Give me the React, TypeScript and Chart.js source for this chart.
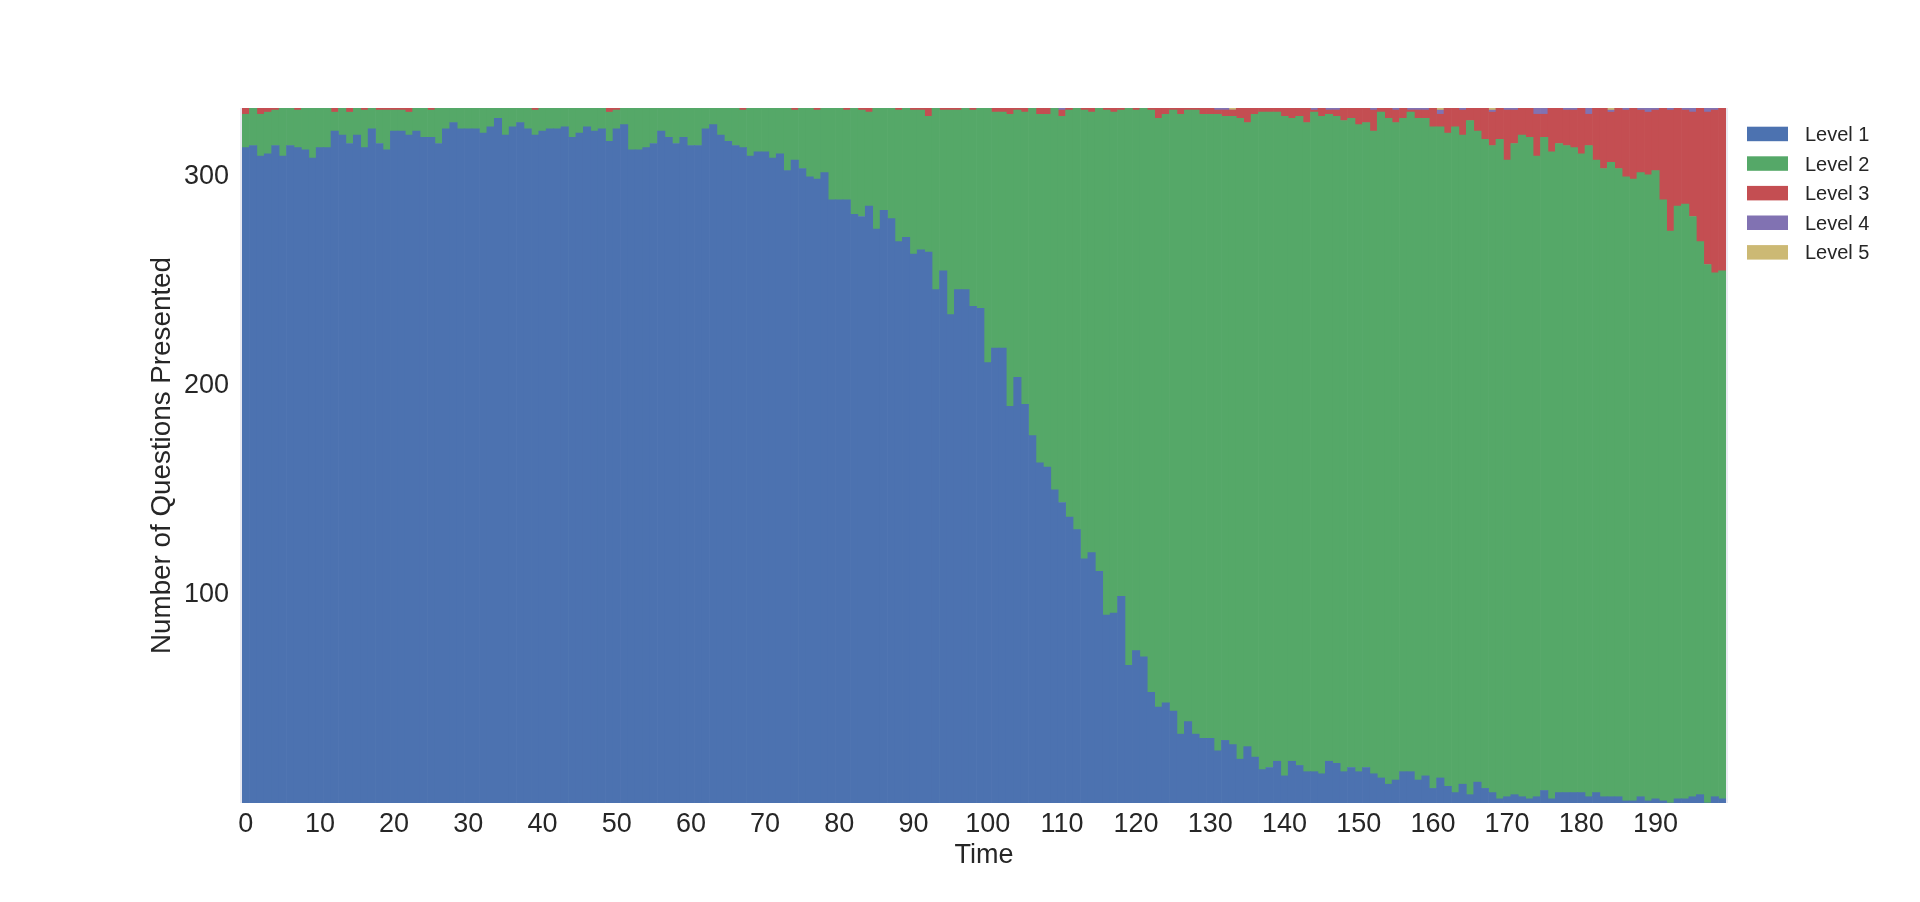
import React, { useEffect, useRef } from 'react';
import { Chart, registerables } from 'chart.js';

Chart.register(...registerables);

const FONT = "'Liberation Sans', Arial, Helvetica, sans-serif";
const TEXT_COLOR = '#262626';

// Categories: time steps 0..199
const TIME: string[] = Array.from({ length: 200 }, (_, i) => String(i));
const X_TICKS = [0, 10, 20, 30, 40, 50, 60, 70, 80, 90, 100, 110, 120, 130, 140, 150, 160, 170, 180, 190];
const Y_TICKS = [100, 200, 300];
const Y_MAX = 333;

const LEVEL_1 = [
  314, 315, 310, 311, 315, 310, 315, 314, 313, 309,
  314, 314, 322, 320, 316, 320, 314, 323, 316, 313,
  322, 322, 320, 322, 319, 319, 316, 323, 326, 323,
  323, 323, 321, 324, 328, 320, 324, 326, 323, 320,
  322, 323, 323, 324, 319, 321, 324, 322, 323, 317,
  323, 325, 313, 313, 314, 316, 322, 319, 316, 319,
  315, 315, 323, 325, 320, 317, 315, 314, 310, 312,
  312, 309, 311, 303, 308, 304, 300, 299, 302, 289,
  289, 289, 282, 281, 286, 275, 284, 280, 269, 271,
  263, 265, 264, 246, 255, 234, 246, 246, 238, 237,
  211, 218, 218, 190, 204, 191, 176, 163, 161, 150,
  144, 137, 131, 117, 120, 111, 90, 91, 99, 66,
  73, 70, 53, 46, 48, 44, 33, 39, 33, 31,
  31, 25, 30, 28, 21, 27, 22, 16, 17, 20,
  13, 20, 18, 15, 15, 14, 20, 19, 15, 17,
  15, 17, 14, 12, 9, 11, 15, 15, 11, 13,
  7, 12, 8, 5, 9, 4, 10, 7, 5, 2,
  3, 4, 3, 2, 3, 6, 2, 5, 5, 5,
  5, 3, 5, 3, 3, 3, 1, 1, 3, 1,
  2, 1, 0, 2, 2, 3, 4, 0, 3, 2,
];

const LEVEL_2 = [
  16, 18, 20, 20, 17, 23, 18, 18, 20, 24,
  19, 19, 9, 13, 15, 13, 18, 10, 16, 19,
  10, 10, 11, 11, 14, 13, 17, 10, 7, 10,
  10, 10, 12, 9, 5, 13, 9, 7, 10, 12,
  11, 10, 10, 9, 14, 12, 9, 11, 10, 14,
  9, 8, 20, 20, 19, 17, 11, 14, 17, 14,
  18, 18, 10, 8, 13, 16, 18, 18, 23, 21,
  21, 24, 22, 30, 24, 29, 33, 33, 31, 44,
  44, 43, 51, 51, 45, 58, 49, 53, 63, 62,
  69, 67, 65, 87, 77, 98, 86, 87, 94, 96,
  122, 113, 113, 140, 128, 140, 157, 167, 169, 183,
  185, 195, 202, 215, 211, 222, 242, 240, 233, 267,
  259, 263, 279, 282, 282, 288, 297, 293, 299, 299,
  299, 305, 299, 301, 307, 299, 308, 315, 314, 311,
  316, 308, 311, 311, 316, 315, 310, 310, 312, 311,
  310, 309, 308, 319, 319, 315, 313, 316, 317, 315,
  317, 312, 313, 319, 311, 323, 312, 311, 310, 316,
  305, 312, 317, 317, 307, 313, 310, 311, 310, 309,
  306, 312, 303, 301, 304, 301, 299, 298, 299, 300,
  301, 288, 274, 284, 285, 278, 265, 258, 251, 253,
];

const LEVEL_3 = [
  3, 0, 3, 2, 1, 0, 0, 1, 0, 0,
  0, 0, 2, 0, 2, 0, 1, 0, 1, 1,
  1, 1, 2, 0, 0, 1, 0, 0, 0, 0,
  0, 0, 0, 0, 0, 0, 0, 0, 0, 1,
  0, 0, 0, 0, 0, 0, 0, 0, 0, 2,
  1, 0, 0, 0, 0, 0, 0, 0, 0, 0,
  0, 0, 0, 0, 0, 0, 0, 1, 0, 0,
  0, 0, 0, 0, 1, 0, 0, 1, 0, 0,
  0, 1, 0, 1, 2, 0, 0, 0, 1, 0,
  1, 1, 4, 0, 1, 1, 1, 0, 1, 0,
  0, 2, 2, 3, 1, 2, 0, 3, 3, 0,
  3, 1, 0, 1, 2, 0, 1, 2, 1, 0,
  1, 0, 1, 5, 3, 1, 3, 1, 1, 3,
  3, 2, 3, 3, 5, 7, 3, 2, 2, 2,
  4, 5, 4, 7, 1, 4, 2, 3, 6, 5,
  8, 7, 10, 2, 5, 6, 5, 1, 4, 4,
  9, 6, 12, 9, 12, 6, 11, 15, 16, 15,
  24, 16, 13, 14, 20, 11, 21, 17, 17, 18,
  22, 15, 25, 29, 24, 29, 32, 34, 30, 30,
  29, 44, 58, 47, 45, 50, 64, 73, 78, 78,
];

const LEVEL_4 = [
  0, 0, 0, 0, 0, 0, 0, 0, 0, 0,
  0, 0, 0, 0, 0, 0, 0, 0, 0, 0,
  0, 0, 0, 0, 0, 0, 0, 0, 0, 0,
  0, 0, 0, 0, 0, 0, 0, 0, 0, 0,
  0, 0, 0, 0, 0, 0, 0, 0, 0, 0,
  0, 0, 0, 0, 0, 0, 0, 0, 0, 0,
  0, 0, 0, 0, 0, 0, 0, 0, 0, 0,
  0, 0, 0, 0, 0, 0, 0, 0, 0, 0,
  0, 0, 0, 0, 0, 0, 0, 0, 0, 0,
  0, 0, 0, 0, 0, 0, 0, 0, 0, 0,
  0, 0, 0, 0, 0, 0, 0, 0, 0, 0,
  1, 0, 0, 0, 0, 0, 0, 0, 0, 0,
  0, 0, 0, 0, 0, 0, 0, 0, 0, 0,
  0, 1, 1, 0, 0, 0, 0, 0, 0, 0,
  0, 0, 0, 0, 1, 0, 1, 1, 0, 0,
  0, 0, 1, 0, 0, 1, 0, 1, 1, 1,
  0, 2, 0, 0, 1, 0, 0, 0, 1, 0,
  1, 1, 0, 0, 3, 3, 0, 0, 1, 1,
  0, 3, 0, 0, 1, 0, 1, 0, 1, 2,
  1, 0, 1, 0, 1, 2, 0, 2, 1, 0,
];

const LEVEL_5 = [
  0, 0, 0, 0, 0, 0, 0, 0, 0, 0,
  0, 0, 0, 0, 0, 0, 0, 0, 0, 0,
  0, 0, 0, 0, 0, 0, 0, 0, 0, 0,
  0, 0, 0, 0, 0, 0, 0, 0, 0, 0,
  0, 0, 0, 0, 0, 0, 0, 0, 0, 0,
  0, 0, 0, 0, 0, 0, 0, 0, 0, 0,
  0, 0, 0, 0, 0, 0, 0, 0, 0, 0,
  0, 0, 0, 0, 0, 0, 0, 0, 0, 0,
  0, 0, 0, 0, 0, 0, 0, 0, 0, 0,
  0, 0, 0, 0, 0, 0, 0, 0, 0, 0,
  0, 0, 0, 0, 0, 0, 0, 0, 0, 0,
  0, 0, 0, 0, 0, 0, 0, 0, 0, 0,
  0, 0, 0, 0, 0, 0, 0, 0, 0, 0,
  0, 0, 0, 1, 0, 0, 0, 0, 0, 0,
  0, 0, 0, 0, 0, 0, 0, 0, 0, 0,
  0, 0, 0, 0, 0, 0, 0, 0, 0, 0,
  0, 1, 0, 0, 0, 0, 0, 0, 1, 0,
  0, 0, 0, 0, 0, 0, 0, 0, 0, 0,
  0, 0, 0, 0, 1, 0, 0, 0, 0, 0,
  0, 0, 0, 0, 0, 0, 0, 0, 0, 0,
];

const SERIES_NAMES = ['Level 1', 'Level 2', 'Level 3', 'Level 4', 'Level 5'];
const SERIES_COLORS = ['#4C72B0', '#55A868', '#C44E52', '#8172B2', '#CCB974'];

const decorPlugin = {
  id: 'decor',
  afterDraw(chart: any) {
    const { ctx, chartArea } = chart;
    ctx.save();
    // light spines left/right
    ctx.fillStyle = '#EAEAF2';
    ctx.fillRect(chartArea.left - 2, chartArea.top, 2, chartArea.bottom - chartArea.top);
    ctx.fillRect(chartArea.right, chartArea.top, 2, chartArea.bottom - chartArea.top);
    // legend
    ctx.font = `20px ${FONT}`;
    ctx.textBaseline = 'middle';
    ctx.textAlign = 'left';
    chart.data.datasets.forEach((ds: any, i: number) => {
      const top = 126.7 + i * 29.6;
      ctx.fillStyle = ds.backgroundColor;
      ctx.fillRect(chartArea.right + 21, top, 41, 14.5);
      ctx.fillStyle = TEXT_COLOR;
      ctx.fillText(ds.label, chartArea.right + 79, top + 8.8);
    });
    ctx.restore();
  },
};

export default function App() {
  const canvasRef = useRef<HTMLCanvasElement | null>(null);

  useEffect(() => {
    const canvas = canvasRef.current;
    if (!canvas) return;
    const values = [LEVEL_1, LEVEL_2, LEVEL_3, LEVEL_4, LEVEL_5];
    const chart = new Chart(canvas, {
      type: 'bar',
      data: {
        labels: TIME,
        datasets: values.map((data, i) => ({
          label: SERIES_NAMES[i],
          data,
          backgroundColor: SERIES_COLORS[i],
          borderWidth: 0,
          barPercentage: 1,
          categoryPercentage: 1,
        })),
      },
      options: {
        responsive: false,
        animation: false,
        events: [],
        layout: { padding: { top: 108, right: 194, left: 0, bottom: 0 } },
        plugins: {
          legend: { display: false },
          tooltip: { enabled: false },
        },
        scales: {
          x: {
            stacked: true,
            grid: { display: false, drawTicks: false },
            border: { display: false },
            ticks: {
              autoSkip: false,
              maxRotation: 0,
              minRotation: 0,
              padding: 5,
              color: TEXT_COLOR,
              font: { family: FONT, size: 27 },
              callback: (_v: any, i: number) => (X_TICKS.includes(i) ? TIME[i] : ''),
            },
            title: {
              display: true,
              text: 'Time',
              color: TEXT_COLOR,
              font: { family: FONT, size: 27 },
              padding: { top: 0, bottom: 30 },
            },
            afterFit: (s: any) => {
              s.height = 99;
            },
          },
          y: {
            stacked: true,
            min: 0,
            max: Y_MAX,
            grid: { display: false, drawTicks: false },
            border: { display: false },
            afterBuildTicks: (s: any) => {
              s.ticks = Y_TICKS.map((v) => ({ value: v }));
            },
            ticks: {
              padding: 13,
              color: TEXT_COLOR,
              font: { family: FONT, size: 27 },
            },
            title: {
              display: true,
              text: 'Number of Questions Presented',
              color: TEXT_COLOR,
              font: { family: FONT, size: 27.8 },
              padding: { top: 146, bottom: 0 },
            },
            afterFit: (s: any) => {
              s.width = 242;
            },
          },
        },
      },
      plugins: [decorPlugin],
    });
    return () => chart.destroy();
  }, []);

  return (
    <div style={{ position: 'absolute', left: 0, top: 0, width: 1920, height: 902, background: '#fff' }}>
      <canvas ref={canvasRef} width={1920} height={902} style={{ display: 'block' }} />
    </div>
  );
}
